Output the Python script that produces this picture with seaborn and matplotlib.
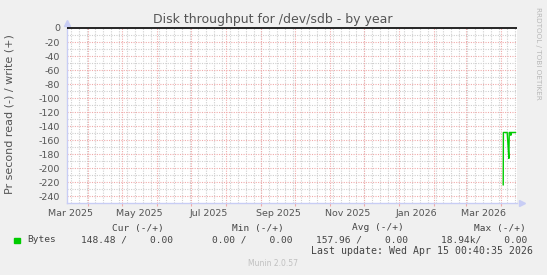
import matplotlib
matplotlib.use("Agg")
import matplotlib.pyplot as plt
import matplotlib.dates as mdates
import seaborn as sns
import pandas as pd
import numpy as np

# ---- data ----
read_times = ["2026-04-02 20:00", "2026-04-03 00:00", "2026-04-06 08:00",
              "2026-04-07 00:00", "2026-04-07 20:00", "2026-04-08 04:00",
              "2026-04-09 08:00", "2026-04-09 14:00", "2026-04-09 20:00",
              "2026-04-13 20:00"]
read_values = [-224, -149, -149, -165, -186, -149, -149, -153, -149, -149]
y_ticks = list(range(0, -241, -20))
x_label_months = ["2025-03-16", "2025-05-16", "2025-07-16", "2025-09-16",
                  "2025-11-16", "2026-01-16", "2026-03-16"]
x_label_texts = ["Mar 2025", "May 2025", "Jul 2025", "Sep 2025",
                 "Nov 2025", "Jan 2026", "Mar 2026"]
legend_name = "Bytes"
cur_vals = ["148.48", "0.00"]
min_vals = ["0.00", "0.00"]
avg_vals = ["157.96", "0.00"]
max_vals = ["18.94k", "0.00"]
title = "Disk throughput for /dev/sdb - by year"
ylabel = "Pr second read (-) / write (+)"
last_update = "Last update: Wed Apr 15 00:40:35 2026"

end_time = pd.Timestamp("2026-04-15 00:40:35")
start_time = end_time - pd.Timedelta(days=398)

sns.set_theme(style="white")
plt.rcParams["axes.unicode_minus"] = False
plt.rcParams["font.family"] = ["DejaVu Sans"]

W, H = 547, 275
fig = plt.figure(figsize=(W / 100, H / 100), dpi=100, facecolor="#F0F0F0")
ax = fig.add_axes([67 / W, 1 - 203 / H, 450 / W, 176 / H])
ax.set_facecolor("white")

df = pd.DataFrame({"time": pd.to_datetime(read_times), "value": read_values})

# grid: minor (gray) and major (red)
minor_c = "#cfcfcf"
major_c = "#f0aaaa"
dot = (0, (1, 1.2))
for v in np.arange(-240, 1, 10):
    if v % 20 != 0:
        ax.axhline(v, color=minor_c, lw=0.8, ls=dot, zorder=1)
weeks = pd.date_range(start_time.normalize(), end_time, freq="W-MON")
for wd in weeks:
    ax.axvline(wd, color=minor_c, lw=0.8, ls=dot, zorder=1)
for v in y_ticks[1:]:
    ax.axhline(v, color=major_c, lw=0.8, ls=dot, zorder=2)
months = pd.date_range(start_time.normalize(), end_time, freq="MS")
for md in months:
    ax.axvline(md, color=major_c, lw=0.8, ls=dot, zorder=2)

ax.axhline(0, color="black", lw=1.2, zorder=3)

sns.lineplot(data=df, x="time", y="value", color="#00CC00", lw=1.0, ax=ax,
             zorder=4, legend=False)

ax.set_xlim(start_time, end_time)
ax.set_ylim(-249.6, 1.4)
ax.set_yticks(y_ticks)
ax.set_yticklabels([str(t) for t in y_ticks])
ax.set_xticks(pd.to_datetime(x_label_months))
ax.set_xticklabels(x_label_texts)
ax.set_xticks(months, minor=True)
ax.tick_params(axis="both", which="major", labelsize=6.8,
               labelcolor="#555555", pad=3)
ax.tick_params(axis="y", which="major", length=2, width=0.8, color=major_c)
ax.tick_params(axis="x", which="major", length=0, pad=4)
ax.tick_params(axis="x", which="minor", length=2.5, width=0.8, color=major_c,
               bottom=True)
ax.set_xlabel("")
ax.set_ylabel("")

for s in ["top", "right"]:
    ax.spines[s].set_visible(False)
for s in ["left", "bottom"]:
    ax.spines[s].set_color("#c8cdf5")
    ax.spines[s].set_linewidth(1.0)

# axis arrows
ax.plot([0], [1.02], marker="^", color="#c8cdf5", markersize=4,
        transform=ax.transAxes, clip_on=False)
ax.plot([1.01], [0], marker=">", color="#c8cdf5", markersize=4,
        transform=ax.transAxes, clip_on=False)

# texts
fig.text(273 / W, 1 - 19 / H, title, ha="center", va="center",
         fontsize=9.0, color="#555555")
fig.text(10 / W, 1 - 114 / H, ylabel, ha="center", va="center",
         rotation=90, fontsize=8.0, color="#555555")
fig.text(538 / W, 1 - 53 / H, "RRDTOOL / TOBI OETIKER", ha="center",
         va="center", rotation=270, fontsize=5.2, color="#b8b8b8")

mono = "DejaVu Sans Mono"
tc = "#444444"
fs = 6.8
r1, r2, r3 = 1 - 228 / H, 1 - 240 / H, 1 - 251 / H
for xs, lab in [(164, "Cur (-/+)"), (284, "Min (-/+)"), (404, "Avg (-/+)"),
                (526, "Max (-/+)")]:
    fig.text(xs / W, r1, lab, ha="right", va="center", family=mono,
             fontsize=fs, color=tc)
fig.patches.append(plt.Rectangle((14 / W, 1 - 243 / H), 5.5 / W, 5.5 / H,
                                 transform=fig.transFigure,
                                 color="#00CC00"))
fig.text(27 / W, r2, legend_name, ha="left", va="center", family=mono,
         fontsize=fs, color=tc)
for xs, vals in [(173, cur_vals), (292, min_vals), (408.5, avg_vals),
                 (527, max_vals)]:
    sep = "/" if vals[0].endswith("k") else " /"
    fig.text(xs / W, r2, f"{vals[0]}{sep}{vals[1]:>8}", ha="right",
             va="center", family=mono, fontsize=fs, color=tc)
fig.text(533 / W, r3, last_update, ha="right", va="center", family=mono,
         fontsize=7.1, color=tc)
fig.text(273 / W, 1 - 263 / H, "Munin 2.0.57", ha="center", va="center",
         fontsize=5.5, color="#c0c0c0")

fig.savefig("out.png", dpi=100, facecolor=fig.get_facecolor())
